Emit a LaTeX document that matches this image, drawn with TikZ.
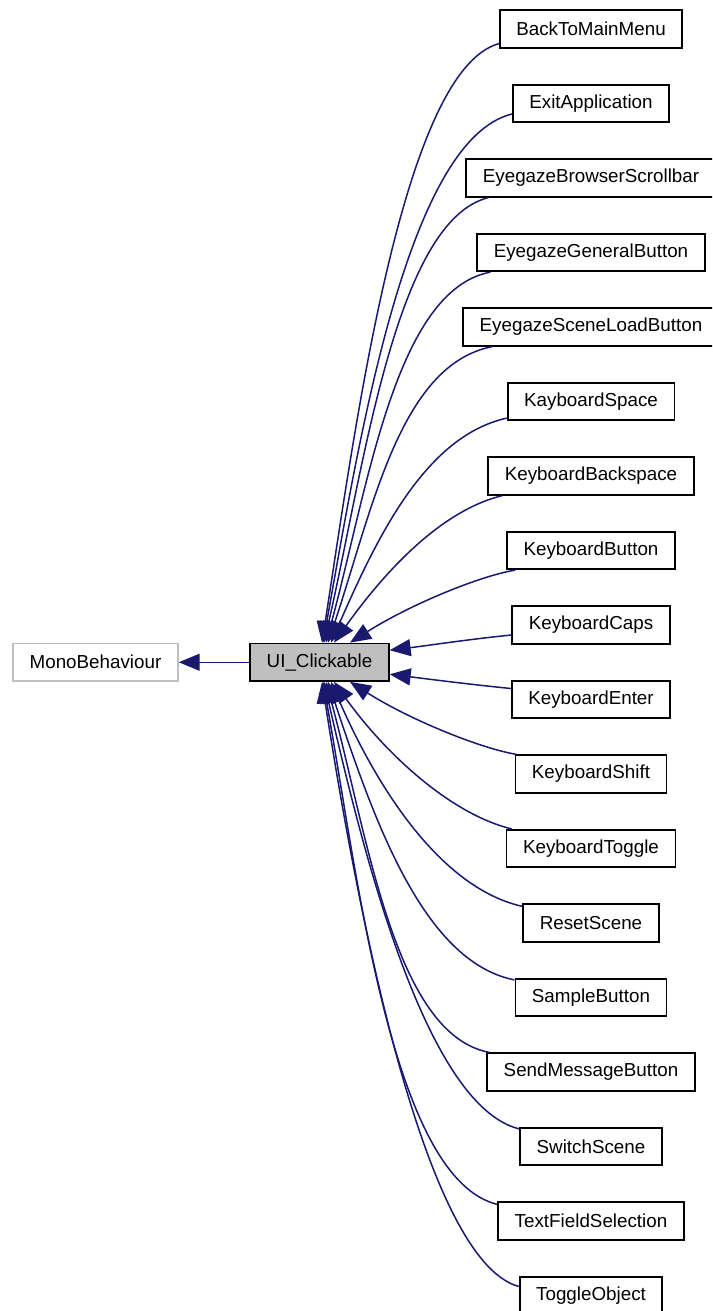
\documentclass[tikz,border=0pt]{standalone}
\usepackage{fontspec}
\setmainfont{Liberation Sans}
\usetikzlibrary{arrows.meta,calc}
\definecolor{edgeblue}{HTML}{191970}
\definecolor{greybox}{HTML}{BFBFBF}
\begin{document}
\begin{tikzpicture}[x=1pt,y=-1pt,
  cls/.style={draw=black, fill=white, line width=1.8pt, minimum height=37.4pt,
    inner xsep=16.5pt, inner ysep=0pt, font=\fontsize{18.8}{22}\selectfont},
  extcls/.style={cls, draw=greybox},
  basecls/.style={cls, fill=greybox},
  inh/.style={draw=edgeblue, line width=1.5pt, -{Triangle[length=21pt,width=17pt]}}]
\useasboundingbox (0,0) rectangle (712,1311);
\clip (0,0) rectangle (712,1311);

% base classes
\node[extcls] (mono) at (95.5,662.25) {MonoBehaviour};
\node[basecls] (ui) at (319.5,662.25) {UI\_Clickable};

% derived classes, one column
\foreach \n/\t [count=\i from 0] in {
  c0/BackToMainMenu, c1/ExitApplication, c2/EyegazeBrowserScrollbar,
  c3/EyegazeGeneralButton, c4/EyegazeSceneLoadButton, c5/KayboardSpace,
  c6/KeyboardBackspace, c7/KeyboardButton, c8/KeyboardCaps, c9/KeyboardEnter,
  c10/KeyboardShift, c11/KeyboardToggle, c12/ResetScene, c13/SampleButton,
  c14/SendMessageButton, c15/SwitchScene, c16/TextFieldSelection, c17/ToggleObject}
  \node[cls] (\n) at (591,{29+74.5*\i}) {\t};

% UI_Clickable -> MonoBehaviour
\draw[inh] (ui.west) -- (mono.east);

% upper children into the top of UI_Clickable
\draw[inh] ($(c0.south west)+(0,-5)$) .. controls +(-97,27) and +(33,-213) .. ($(ui.north)+(2.5,0)$);
\draw[inh] ($(c1.west)+(0,10.5)$) .. controls +(-106,26) and +(35,-195) .. ($(ui.north)+(3.5,0)$);
\draw[inh] ($(c2.south west)+(23,0)$) .. controls +(-93,23) and +(40,-175) .. ($(ui.north)+(4.5,0)$);
\draw[inh] ($(c3.south west)+(14,0)$) .. controls +(-95,18) and +(42,-155) .. ($(ui.north)+(6.5,0)$);
\draw[inh] ($(c4.south west)+(30,0)$) .. controls +(-92,18) and +(45,-135) .. ($(ui.north)+(8.5,0)$);
\draw[inh] ($(c5.south west)+(0,-3)$) .. controls +(-80,18) and +(48,-110) .. ($(ui.north)+(11.5,0)$);
\draw[inh] ($(c6.south west)+(15,0)$) .. controls +(-62,15) and +(50,-70) .. ($(ui.north)+(14.5,0)$);
\draw[inh] ($(c7.south west)+(9,0)$) .. controls +(-36,6) and +(60,-38) .. ($(ui.north)+(30.5,0)$);

% middle children into the right side
\draw[inh] ($(c8.west)+(0,10)$) .. controls +(-40,4) and +(40,-5) .. ($(ui.east)+(0,-12)$);
\draw[inh] ($(c9.west)+(0,-11)$) .. controls +(-40,-4) and +(40,5) .. ($(ui.east)+(0,12)$);

% lower children into the bottom of UI_Clickable
\draw[inh] ($(c10.north west)+(2,0)$) .. controls +(-36,-6) and +(60,38) .. ($(ui.south)+(30.5,0)$);
\draw[inh] ($(c11.north west)+(6,0)$) .. controls +(-62,-15) and +(50,70) .. ($(ui.south)+(14.5,0)$);
\draw[inh] ($(c12.north west)+(0,3)$) .. controls +(-80,-18) and +(48,110) .. ($(ui.south)+(11.5,0)$);
\draw[inh] ($(c13.north west)+(0,2)$) .. controls +(-92,-18) and +(45,135) .. ($(ui.south)+(8.5,0)$);
\draw[inh] ($(c14.north west)+(3,0)$) .. controls +(-95,-18) and +(42,155) .. ($(ui.south)+(6.5,0)$);
\draw[inh] ($(c15.north west)+(0,2)$) .. controls +(-93,-23) and +(40,175) .. ($(ui.south)+(4.5,0)$);
\draw[inh] ($(c16.north west)+(0,3)$) .. controls +(-106,-26) and +(35,195) .. ($(ui.south)+(3.5,0)$);
\draw[inh] ($(c17.west)+(0,-9)$) .. controls +(-97,-27) and +(33,213) .. ($(ui.south)+(2.5,0)$);
\end{tikzpicture}
\end{document}
